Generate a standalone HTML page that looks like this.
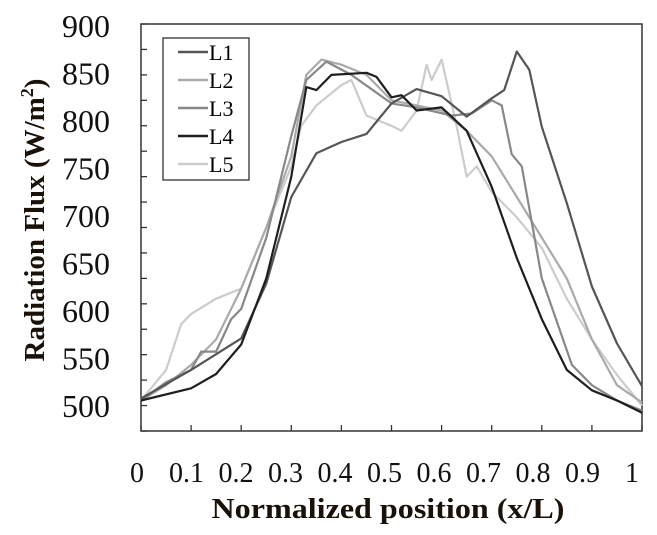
<!DOCTYPE html>
<html><head><meta charset="utf-8"><style>
body{margin:0;background:#fff;}
svg{display:block;font-family:"Liberation Serif",serif;}
</style></head><body>
<svg id="c" width="657" height="535"></svg>
<script>
const xTicks=[0,0.1,0.2,0.3,0.4,0.5,0.6,0.7,0.8,0.9,1];
const xTickLabels=["0","0.1","0.2","0.3","0.4","0.5","0.6","0.7","0.8","0.9","1"];
const yTicks=[500,550,600,650,700,750,800,850,900];
const seriesNames=["L1","L2","L3","L4","L5"];
const l1X=[0,0.1,0.2,0.25,0.3,0.35,0.4,0.45,0.5,0.55,0.6,0.65,0.7,0.725,0.75,0.775,0.8,0.85,0.9,0.95,1];
const l1Y=[532,560,591,645,730,773,784,792,822,836,829,809,827,835,873,855,799,724,642,586,544];
const l2X=[0,0.05,0.1,0.15,0.2,0.25,0.3,0.33,0.36,0.4,0.45,0.5,0.55,0.6,0.65,0.7,0.75,0.8,0.85,0.9,0.95,1];
const l2Y=[530,545,565,590,640,700,770,850,865,860,850,825,820,815,795,770,730,690,650,590,545,528];
const l3X=[0,0.05,0.1,0.12,0.15,0.18,0.2,0.25,0.3,0.33,0.37,0.42,0.5,0.55,0.62,0.66,0.7,0.72,0.74,0.76,0.8,0.86,0.9,0.95,1];
const l3Y=[530,548,560,578,578,610,620,690,790,845,863,850,822,818,810,812,825,820,772,760,650,565,545,530,520];
const l4X=[0,0.1,0.15,0.2,0.25,0.3,0.33,0.35,0.38,0.45,0.47,0.5,0.52,0.55,0.6,0.65,0.7,0.75,0.8,0.85,0.9,0.95,1];
const l4Y=[530,542,556,585,650,750,838,835,850,852,848,828,830,815,818,795,740,670,610,560,540,530,518];
const l5X=[0,0.05,0.08,0.1,0.15,0.2,0.25,0.3,0.32,0.35,0.4,0.42,0.45,0.5,0.52,0.55,0.57,0.58,0.6,0.63,0.65,0.67,0.7,0.75,0.8,0.85,0.9,0.95,1];
const l5Y=[530,560,605,615,630,640,700,760,800,820,840,845,810,800,795,815,860,845,865,800,750,760,735,710,680,630,590,555,525];
const colors=["#555","#aaa","#888","#1e1e1e","#ccc"];
const NS="http://www.w3.org/2000/svg";
const svg=document.getElementById('c');
const L=141,R=642,T=24,B=431;
const sx=v=>L+(v-0)*(R-L);
const sy=v=>B-(v-500)/400*(B-T);
// tick labels in the reference sit on their own (compressed) spacing
const lyBase=417, lyTop=37;
const ly=v=>lyBase-(v-500)/400*(lyBase-lyTop);
const lx=v=>137+v*(632-137);
function mk(t,a,p){const e=document.createElementNS(NS,t);for(const k in a)e.setAttribute(k,a[k]);(p||svg).appendChild(e);return e;}
const frame=mk('rect',{x:L,y:T,width:R-L,height:B-T,fill:'none',stroke:'#333','stroke-width':1.5});


yTicks.forEach(v=>{
  for(const s of [0,25]){ if(v+s>900)continue;
    const tk=mk('line',{x1:L,x2:L+6,y1:sy(v+s),y2:sy(v+s),stroke:'#333','stroke-width':1.3});
    
    }
  const t=mk('text',{x:110,y:ly(v),'text-anchor':'end','font-size':32,fill:'#111',textLength:48,lengthAdjust:'spacingAndGlyphs'});
  t.textContent=v;
  
  
});
xTicks.forEach((v,i)=>{
  const tk=mk('line',{x1:sx(v),x2:sx(v),y1:B,y2:B-6,stroke:'#333','stroke-width':1.3});
  
  
  const t=mk('text',{x:lx(v),y:482,'text-anchor':'middle','font-size':28,fill:'#111'});
  t.textContent=xTickLabels[i];
  
  
});
const xs=[l1X,l2X,l3X,l4X,l5X], ys=[l1Y,l2Y,l3Y,l4Y,l5Y];
[4,1,2,0,3].forEach(i=>{
  const d=xs[i].map((x,j)=>(j?'L':'M')+sx(x).toFixed(1)+','+sy(ys[i][j]).toFixed(1)).join(' ');
  const p=mk('path',{d:d,fill:'none',stroke:colors[i],'stroke-width':2.2,'stroke-linejoin':'round'});
  
  
});
const lg=mk('g',{});


mk('rect',{x:163,y:38,width:86,height:142,fill:'#fff',stroke:'#333','stroke-width':1.3},lg);
seriesNames.forEach((n,i)=>{
  const y=52+i*28;
  const ln=mk('line',{x1:178,x2:208,y1:y,y2:y,stroke:colors[i],'stroke-width':2.5},lg);
  
  
  const t=mk('text',{x:209,y:y+8,'font-size':22,fill:'#000'},lg);
  t.textContent=n;
  
  
});
const xt=mk('text',{x:388,y:518,'text-anchor':'middle','font-size':28,'font-weight':'bold',fill:'#1a1208',textLength:353,lengthAdjust:'spacingAndGlyphs'});
xt.textContent='Normalized position (x/L)';


const yt=mk('text',{x:0,y:0,'text-anchor':'middle','font-size':29,'font-weight':'bold',fill:'#1a1208',transform:'translate(44,220) rotate(-90)'});
yt.innerHTML='Radiation Flux (W/m<tspan font-size="18" dy="-11">2</tspan><tspan dy="11">)</tspan>';


</script>
</body></html>
